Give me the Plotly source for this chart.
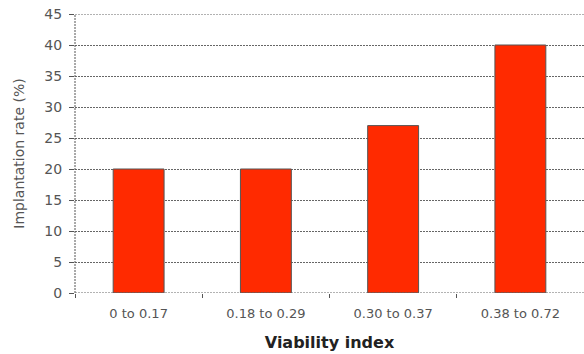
import plotly.graph_objects as go

categories = ["0 to 0.17", "0.18 to 0.29", "0.30 to 0.37", "0.38 to 0.72"]
implantation_rate = [20, 20, 27, 40]
y_ticks = [0, 5, 10, 15, 20, 25, 30, 35, 40, 45]

fig = go.Figure()
fig.add_trace(go.Bar(
    x=categories,
    y=implantation_rate,
    width=0.4,
    marker=dict(color="#ff2a00", line=dict(color="#555555", width=1)),
))

grid_dash = "2px,1px"
label_font = "DejaVu Sans, Verdana, sans-serif"

fig.update_layout(
    width=584, height=354,
    margin=dict(l=75, r=0, t=14, b=61),
    paper_bgcolor="white", plot_bgcolor="white",
    showlegend=False,
    font=dict(family=label_font, color="#444444", size=14),
    xaxis=dict(
        type="category",
        range=[-0.5, 3.5],
        tickson="boundaries",
        ticks="outside", ticklen=4, tickcolor="#555555",
        ticklabelstandoff=11,
        showgrid=False, showline=False,
        tickfont=dict(size=13, color="#555555"),
        title=dict(text="Viability index",
                   font=dict(size=16, color="#222222", weight="bold"), standoff=16),
    ),
    yaxis=dict(
        range=[0, 45],
        tickvals=y_ticks,
        ticks="outside", ticklen=5, tickcolor="#555555",
        ticklabelstandoff=4,
        showgrid=True, gridcolor="#666666", gridwidth=1, griddash=grid_dash,
        zeroline=False, showline=False,
        tickfont=dict(size=14, color="#555555"),
        title=dict(text="Implantation rate (%)", font=dict(size=14, color="#555555"), standoff=16),
    ),
)

# dotted frame lines: left axis, baseline and top
fig.add_shape(type="line", xref="paper", yref="y", x0=0, x1=0, y0=0, y1=45,
              line=dict(color="#555555", width=1, dash=grid_dash), layer="above")
for yv in (y_ticks[0], y_ticks[-1]):
    fig.add_shape(type="line", xref="paper", yref="y", x0=0, x1=1, y0=yv, y1=yv,
                  line=dict(color="#666666", width=1, dash=grid_dash), layer="above")

fig.write_html("out.html")
